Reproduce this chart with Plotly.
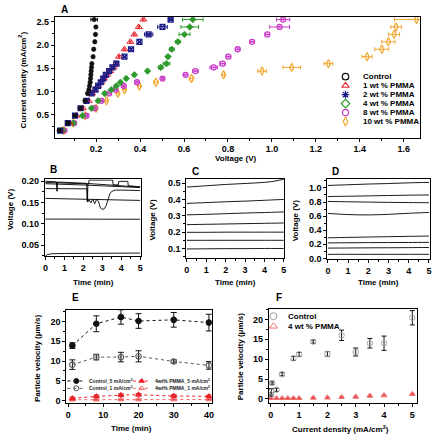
import plotly.graph_objects as go

W, H = 434, 440
FONT = "Liberation Sans, Arial, sans-serif"

# ---------------- Panel A data ----------------
A_current = [0.16, 0.32, 0.48, 0.64, 0.80, 0.96, 1.04, 1.12, 1.20, 1.28, 1.36, 1.44,
             1.52, 1.60, 1.75, 1.91, 2.07, 2.23, 2.39, 2.55]
A_ctrl_v = [0.032, 0.071, 0.104, 0.129, 0.149, 0.161, 0.167, 0.170, 0.173, 0.1745, 0.176,
            0.1775, 0.179, 0.1805, 0.186, 0.189, 0.194, 0.197, 0.199, 0.191]
A_ctrl_e = [0.003] * 19 + [0.015]
A_w1_v = [0.041, 0.081, 0.111, 0.140, 0.167, 0.182, 0.194, 0.209, 0.224, 0.236, 0.250,
          0.265, 0.280, 0.290, 0.304, 0.329, 0.356, 0.374, 0.394, 0.415]
A_w1_e = [0.003] * 20
A_w2_v = [0.036, 0.071, 0.104, 0.129, 0.156, 0.179, 0.197, 0.209, 0.221, 0.232, 0.244,
          0.259, 0.274, 0.292, 0.329, 0.359, 0.397, 0.439, 0.502, 0.539]
A_w2_e = [0.004] * 17 + [0.019, 0.022, 0.010]
A_w4_v = [0.048, 0.096, 0.138, 0.179, 0.209, 0.239, 0.269, 0.292, 0.311, 0.337, 0.374,
          0.434, 0.494, 0.520, 0.527, 0.544, 0.572, 0.602, 0.626, 0.640]
A_w4_e = [0.005] * 12 + [0.010, 0.015, 0.008, 0.010, 0.010, 0.025, 0.040, 0.047]
A_w8_v = [0.056, 0.100, 0.156, 0.194, 0.224, 0.259, 0.289, 0.326, 0.386, 0.502, 0.607,
          0.652, 0.735, 0.775, 0.802, 0.844, 0.910, 0.979, 1.035, 1.051]
A_w8_e = [0.005] * 10 + [0.008, 0.012, 0.017, 0.012, 0.010, 0.010, 0.010, 0.010, 0.045, 0.030]
A_w10_v = [0.053, 0.096, 0.149, 0.200, 0.247, 0.299, 0.329, 0.397, 0.472, 0.634, 0.780,
           0.955, 1.090, 1.257, 1.433, 1.500, 1.530, 1.556, 1.565, 1.658]
A_w10_e = [0.005] * 8 + [0.010, 0.010, 0.006, 0.020, 0.040, 0.020, 0.023, 0.032, 0.030,
                         0.025, 0.024, 0.100]
A_labels = ["Control", "1 wt % PMMA", "2 wt % PMMA", "4 wt % PMMA", "8 wt % PMMA", "10 wt % PMMA"]

# ---------------- Panel B data ----------------
B1_t = [0, 0.58, 0.6, 0.62, 0.64, 1, 2, 2.18, 2.2, 2.22, 2.24, 3, 4, 5]
B1_v = [0.200, 0.1985, 0.1765, 0.1765, 0.198, 0.197, 0.195, 0.1948, 0.152, 0.152, 0.1945, 0.192, 0.189, 0.186]
B2_t = [0, 1, 2, 2.28, 2.3, 3.55, 3.57, 3.85, 3.87, 4.35, 4.37, 5]
B2_v = [0.197, 0.1955, 0.194, 0.1935, 0.2025, 0.2025, 0.1915, 0.191, 0.1995, 0.1995, 0.1895, 0.1865]
B3_t = [0, 1, 2, 3, 4, 5]
B3_v = [0.194, 0.193, 0.191, 0.189, 0.187, 0.185]
B4_t = [0, 1, 2, 2.2, 2.23, 2.3, 2.4, 2.5, 2.6, 2.7, 2.8, 2.9, 3.0, 3.1, 3.2, 3.3, 3.4, 3.5,
        3.7, 4, 4.5, 5]
B4_v = [0.1825, 0.1823, 0.182, 0.182, 0.151, 0.156, 0.149, 0.158, 0.147, 0.157, 0.153, 0.137,
        0.134, 0.135, 0.142, 0.158, 0.170, 0.176, 0.179, 0.179, 0.1785, 0.178]
B5_t = [0, 1, 2, 3, 4, 5]
B5_v = [0.1595, 0.1585, 0.1575, 0.1565, 0.1555, 0.1548]
B6_t = [0, 1, 2, 3, 4, 5]
B6_v = [0.111, 0.111, 0.1108, 0.1107, 0.1106, 0.1106]
B7_t = [0, 0.1, 0.3, 0.6, 1, 2, 3, 4, 5]
B7_v = [0.0245, 0.0275, 0.0295, 0.030, 0.0302, 0.0305, 0.0307, 0.031, 0.0312]

# ---------------- Panel C data ----------------
C_t = [0, 1, 2, 3, 4, 4.5, 5]
C_lines = [
    [0.476, 0.484, 0.492, 0.498, 0.505, 0.512, 0.524],
    [0.376, 0.381, 0.386, 0.390, 0.395, 0.398, 0.400],
    [0.306, 0.309, 0.313, 0.317, 0.320, 0.322, 0.324],
    [0.246, 0.248, 0.250, 0.252, 0.254, 0.255, 0.256],
    [0.199, 0.199, 0.200, 0.200, 0.200, 0.200, 0.200],
    [0.150, 0.150, 0.150, 0.150, 0.150, 0.150, 0.150],
    [0.097, 0.098, 0.099, 0.099, 0.100, 0.100, 0.100],
]

# ---------------- Panel D data ----------------
D_t = [0, 1, 2, 3, 4, 5]
D_lines = [
    [1.035, 1.045, 1.055, 1.062, 1.072, 1.078],
    [0.878, 0.882, 0.887, 0.892, 0.897, 0.900],
    [0.808, 0.803, 0.799, 0.795, 0.792, 0.790],
    [0.638, 0.622, 0.617, 0.625, 0.640, 0.652],
    [0.292, 0.298, 0.303, 0.308, 0.313, 0.317],
    [0.220, 0.222, 0.224, 0.225, 0.226, 0.228],
    [0.146, 0.148, 0.150, 0.151, 0.153, 0.155],
    [0.058, 0.058, 0.058, 0.058, 0.058, 0.058],
]

# ---------------- Panel E data ----------------
E_time = [1.2, 8, 15, 20, 30, 40]
E_c5 = [13.9, 19.4, 21.1, 20.1, 20.4, 19.7]
E_c5_err = [0.7, 2.0, 1.8, 1.85, 1.85, 2.1]
E_c1 = [9.1, 11.0, 11.0, 11.2, 9.9, 8.9]
E_c1_err = [1.2, 0.7, 1.2, 1.4, 0.4, 0.95]
E_p5 = [0.6, 1.1, 1.4, 1.5, 1.2, 1.1]
E_p5_err = [0.3, 0.3, 0.3, 0.3, 0.3, 0.3]
E_p1 = [0.25, 0.25, 0.3, 0.3, 0.3, 0.3]
E_p1_err = [0.1, 0.1, 0.1, 0.1, 0.1, 0.1]
E_labels = ["Control_5 mA/cm<sup>2</sup>", "4wt% PMMA_5 mA/cm<sup>2</sup>",
            "Control_1 mA/cm<sup>2</sup>", "4wt% PMMA_1 mA/cm<sup>2</sup>"]

# ---------------- Panel F data ----------------
F_ctrl_j = [0.01, 0.02, 0.05, 0.2, 0.4, 0.8, 1.0, 1.5, 2.0, 2.5, 3.0, 3.5, 4.0, 5.0]
F_ctrl_v = [1.1, 1.8, 4.0, 2.3, 6.2, 10.2, 11.2, 14.4, 11.3, 16.0, 11.8, 14.0, 14.0, 20.4]
F_ctrl_err = [0.5, 0.8, 0.3, 0.4, 0.4, 0.5, 0.5, 0.4, 0.6, 1.3, 1.0, 1.2, 1.8, 1.8]
F_pm_j = [0.0, 0.2, 0.4, 0.6, 0.8, 1.0, 1.5, 2.0, 2.5, 3.0, 3.5, 4.0, 5.0]
F_pm_v = [0.15, 0.15, 0.15, 0.15, 0.15, 0.15, 0.25, 0.3, 0.4, 0.5, 0.75, 0.9, 1.2]
F_pm_err = [0.1, 0.1, 0.1, 0.1, 0.1, 0.1, 0.15, 0.15, 0.15, 0.2, 0.2, 0.2, 0.2]
F_labels = ["Control", "4 wt % PMMA"]

# ---------------- helpers ----------------
def fx(px):
    return px / W

def fy(py):
    return 1 - py / H

def axis(dom, rng, dtick, mdtick, fmt, anchor, tick0=0):
    return dict(domain=dom, range=rng, anchor=anchor, showline=True, linecolor="black",
                linewidth=1, mirror=True, ticks="outside", ticklen=3, tickwidth=1,
                tickcolor="black", tick0=tick0, dtick=dtick, tickformat=fmt,
                minor=dict(dtick=mdtick, tick0=tick0, ticks="outside", ticklen=2,
                           tickwidth=1, tickcolor="black"),
                showgrid=False, zeroline=False,
                tickfont=dict(family=FONT, size=9, color="black", weight="bold"))

fig = go.Figure()

# Panel A traces
A_series = [
    (A_w10_v, A_w10_e, "#f2a72e", "diamond-tall-open", 6, 1.2),
    (A_w8_v, A_w8_e, "#c83cc8", "circle-open-dot", 5, 1.3),
    (A_w4_v, A_w4_e, "#2e9a2e", "diamond", 5, 0.8),
    (A_w1_v, A_w1_e, "#e8202a", "triangle-up-open", 6, 1.0),
    (A_w2_v, A_w2_e, "#1c1c86", "square-x-open", 5, 1.2),
    (A_ctrl_v, A_ctrl_e, "#111111", "circle", 4.5, 0.5),
]
for v, e, col, sym, sz, lw in A_series:
    fig.add_trace(go.Scatter(x=v, y=A_current, mode="markers", xaxis="x", yaxis="y",
                             marker=dict(symbol=sym, size=sz, color=col, line=dict(color=col, width=lw)),
                             error_x=dict(type="data", array=e, color=col, thickness=1, width=2),
                             showlegend=False))

# Panel B traces
for t, v in [(B1_t, B1_v), (B2_t, B2_v), (B3_t, B3_v), (B4_t, B4_v), (B5_t, B5_v), (B6_t, B6_v), (B7_t, B7_v)]:
    fig.add_trace(go.Scatter(x=t, y=v, mode="lines", xaxis="x2", yaxis="y2",
                             line=dict(color="black", width=0.9), showlegend=False))
# Panel C
for v in C_lines:
    fig.add_trace(go.Scatter(x=C_t, y=v, mode="lines", xaxis="x3", yaxis="y3",
                             line=dict(color="black", width=0.9, shape="spline"), showlegend=False))
# Panel D
for v in D_lines:
    fig.add_trace(go.Scatter(x=D_t, y=v, mode="lines", xaxis="x4", yaxis="y4",
                             line=dict(color="black", width=0.9, shape="spline"), showlegend=False))

# Panel E
E_series = [
    (E_p1, E_p1_err, "#f06a6a", "triangle-up-open", "#e8202a", 5),
    (E_p5, E_p5_err, "#e8202a", "triangle-up", "#e8202a", 5),
    (E_c1, E_c1_err, "#555555", "circle-open", "#111111", 5.5),
    (E_c5, E_c5_err, "#111111", "circle", "#111111", 5.5),
]
for v, err, col, sym, ecol, sz in E_series:
    fig.add_trace(go.Scatter(x=E_time, y=v, mode="lines+markers", xaxis="x5", yaxis="y5",
                             line=dict(color=col, width=1, dash="dot"),
                             marker=dict(symbol=sym, size=sz, color=col, line=dict(color=col, width=1.1)),
                             error_y=dict(type="data", array=err, color=ecol, thickness=1, width=3),
                             showlegend=False))

# Panel F
fig.add_trace(go.Scatter(x=F_pm_j, y=F_pm_v, mode="markers", xaxis="x6", yaxis="y6",
                         marker=dict(symbol="triangle-up-open", size=5, color="#f07070", line=dict(width=1.1)),
                         error_y=dict(type="data", array=F_pm_err, color="#e8202a", thickness=1, width=2),
                         showlegend=False))
fig.add_trace(go.Scatter(x=F_ctrl_j, y=F_ctrl_v, mode="markers", xaxis="x6", yaxis="y6",
                         marker=dict(symbol="circle-open", size=5.5, color="#a8a8a8", line=dict(width=1)),
                         error_y=dict(type="data", array=F_ctrl_err, color="#111111", thickness=1, width=2.5),
                         showlegend=False))

# ---------------- manual legends on an overlay pixel axis ----------------
A_leg_sym = [("circle-open", "#111111"), ("triangle-up-open", "#e8202a"), ("asterisk-open", "#1c1c86"),
             ("diamond-open", "#2e9a2e"), ("octagon-open", "#c83cc8"), ("diamond-tall-open", "#f2a72e")]
annotations = []
for i, ((sym, col), lab) in enumerate(zip(A_leg_sym, A_labels)):
    yy = 75 + i * 9.15
    fig.add_trace(go.Scatter(x=[346.7], y=[yy], mode="markers", xaxis="x7", yaxis="y7",
                             marker=dict(symbol=sym, size=6.5, color=col, line=dict(color=col, width=1.2)),
                             showlegend=False, cliponaxis=False))
    annotations.append(dict(x=fx(362), y=fy(yy), xref="paper", yref="paper", text=lab, showarrow=False,
                            xanchor="left", yanchor="middle",
                            font=dict(family=FONT, size=8, color="black", weight="bold")))

E_leg = [(E_labels[0], "#111111", "circle", 66, 385), (E_labels[1], "#e8202a", "triangle-up", 132, 385),
         (E_labels[2], "#555555", "circle-open", 66, 392.5), (E_labels[3], "#f06a6a", "triangle-up-open", 132, 392.5)]
for lab, col, sym, x0, yy in E_leg:
    fig.add_trace(go.Scatter(x=[x0, x0 + 18], y=[yy, yy], mode="lines", xaxis="x7", yaxis="y7",
                             line=dict(color=col, width=1, dash="dot"), showlegend=False, cliponaxis=False))
    fig.add_trace(go.Scatter(x=[x0 + 9], y=[yy], mode="markers", xaxis="x7", yaxis="y7",
                             marker=dict(symbol=sym, size=5, color=col, line=dict(color=col, width=1)),
                             showlegend=False, cliponaxis=False))
    annotations.append(dict(x=fx(x0 + 20), y=fy(yy), xref="paper", yref="paper", text=lab, showarrow=False,
                            xanchor="left", yanchor="middle",
                            font=dict(family=FONT, size=5, color="#222222", weight="bold")))

F_leg = [("circle-open", "#a0a0a0", 7), ("triangle-up-open", "#f07070", 7)]
for i, ((sym, col, sz), lab) in enumerate(zip(F_leg, F_labels)):
    yy = 319 + i * 10.3
    fig.add_trace(go.Scatter(x=[274], y=[yy], mode="markers", xaxis="x7", yaxis="y7",
                             marker=dict(symbol=sym, size=sz, color=col, line=dict(color=col, width=1)),
                             showlegend=False, cliponaxis=False))
    annotations.append(dict(x=fx(287), y=fy(yy), xref="paper", yref="paper", text=lab, showarrow=False,
                            xanchor="left", yanchor="middle",
                            font=dict(family=FONT, size=8, color="black", weight="bold")))

# panel letters
for letter, px_, py_ in [("A", 63, 7), ("B", 52, 170), ("C", 195, 171.5), ("D", 337, 171.5),
                         ("E", 74, 300), ("F", 280, 300)]:
    annotations.append(dict(x=fx(px_), y=fy(py_), xref="paper", yref="paper", text=letter, showarrow=False,
                            xanchor="center", yanchor="middle",
                            font=dict(family=FONT, size=10, color="black", weight="bold")))

# axis titles
titles = [
    ("Current density (mA/cm<sup>2</sup>)", 20, 78, -90),
    ("Voltage (V)", 236, 158, 0),
    ("Voltage (V)", 8, 210, -90),
    ("Time (min)", 92, 285, 0),
    ("Voltage (V)", 152, 221, -90),
    ("Time (min)", 236, 285, 0),
    ("Voltage (V)", 297, 221, -90),
    ("Time (min)", 380, 285, 0),
    ("Particle velocity (μm/s)", 36, 362, -90),
    ("Time (min)", 131, 433, 0),
    ("Particle velocity (μm/s)", 241, 360, -90),
    ("Current density (mA/cm<sup>2</sup>)", 342, 434, 0),
]
for txt, px_, py_, ang in titles:
    annotations.append(dict(x=fx(px_), y=fy(py_), xref="paper", yref="paper", text=txt, showarrow=False,
                            xanchor="center", yanchor="middle", textangle=ang,
                            font=dict(family=FONT, size=8, color="black", weight="bold")))

layout = dict(
    width=W, height=H, autosize=False, margin=dict(l=0, r=0, t=0, b=0),
    paper_bgcolor="white", plot_bgcolor="rgba(0,0,0,0)", showlegend=False,
    font=dict(family=FONT, color="black"),
    xaxis=axis([fx(53.3), fx(421.7)], [0.012, 1.673], 0.2, 0.1, ".1f", "y"),
    yaxis=axis([fy(137), fy(14)], [0.01, 2.61], 0.5, 0.25, ".1f", "x"),
    xaxis2=axis([fx(43.3), fx(140)], [-0.03, 5.03], 1, 0.5, "d", "y2"),
    yaxis2=axis([fy(258), fy(179.5)], [0.0236, 0.2045], 0.05, 0.025, ".2f", "x2"),
    xaxis3=axis([fx(186), fx(285)], [-0.03, 5.03], 1, 0.5, "d", "y3"),
    yaxis3=axis([fy(260), fy(179)], [0.04, 0.527], 0.1, 0.05, ".1f", "x3"),
    xaxis4=axis([fx(328.3), fx(431.5)], [-0.03, 5.03], 1, 0.5, "d", "y4"),
    yaxis4=axis([fy(260.5), fy(179)], [-0.005, 1.13], 0.2, 0.1, ".1f", "x4"),
    xaxis5=axis([fx(65), fx(211.7)], [-0.5, 40.8], 10, 5, "d", "y5"),
    yaxis5=axis([fy(407.5), fy(313)], [-0.6, 22.8], 5, 2.5, "d", "x5"),
    xaxis6=axis([fx(269.3), fx(419)], [-0.07, 5.17], 1, 0.5, "d", "y6"),
    yaxis6=axis([fy(407.3), fy(311.7)], [-1.0, 22.6], 5, 2.5, "d", "x6"),
    xaxis7=dict(domain=[0, 1], range=[0, W], visible=False, fixedrange=True, anchor="y7"),
    yaxis7=dict(domain=[0, 1], range=[H, 0], visible=False, fixedrange=True, anchor="x7"),
    annotations=annotations,
)
fig.update_layout(**layout)

fig.write_html("out.html", include_plotlyjs=True, full_html=True,
               config={"displayModeBar": False},
               post_script="document.body.style.margin='0px';")
